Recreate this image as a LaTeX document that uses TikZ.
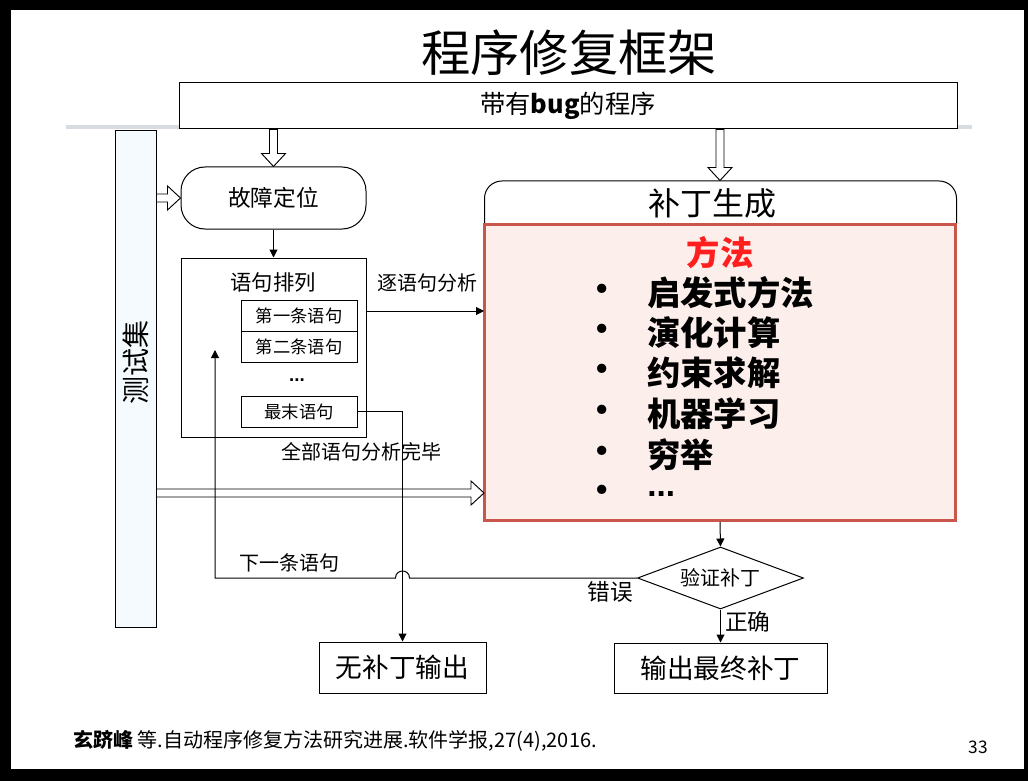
\documentclass[tikz,border=0pt]{standalone}
\usepackage{fontspec}
\setmainfont{Noto Sans CJK SC}
\newfontfamily\dotfont{Liberation Sans}
\usetikzlibrary{shapes.geometric,arrows.meta,calc}
\newcommand\myfs[1]{\fontsize{#1pt}{#1pt}\selectfont}
\newcommand\pxu{0.75pt}
\newcommand\middots{{\dotfont\bfseries ...}}
\definecolor{redborder}{HTML}{C8564B}
\definecolor{pinkfill}{HTML}{FCEEEA}
\definecolor{paleblue}{HTML}{F4FAFD}
\definecolor{lightline}{HTML}{D8DCE2}
\definecolor{titlered}{HTML}{FF1F1F}
\newcommand\hollowdown[2]{\path[hollow] let \p1=(#1), \p2=(#2) in (\x1-3pt,\y1) -- (\x1-3pt,\y2+9.75pt) -- (\x1-9pt,\y2+9.75pt) -- (\x1,\y2) -- (\x1+9pt,\y2+9.75pt) -- (\x1+3pt,\y2+9.75pt) -- (\x1+3pt,\y1) -- cycle;}
\newcommand\hollowright[2]{\path[hollow] let \p1=(#1), \p2=(#2) in (\x1,\y1+3pt) -- (\x2-9.75pt,\y1+3pt) -- (\x2-9.75pt,\y1+9pt) -- (\x2,\y1) -- (\x2-9.75pt,\y1-9pt) -- (\x2-9.75pt,\y1-3pt) -- (\x1,\y1-3pt) -- cycle;}
\begin{document}
\begin{tikzpicture}[x=0.75pt,y=-0.75pt,
  box/.style={draw, line width=0.75pt, fill=white, inner sep=0pt},
  sbox/.style={box, minimum width=116*\pxu, minimum height=31*\pxu, font=\myfs{13}},
  lbl/.style={inner sep=0pt},
  conn/.style={line width=0.75pt, -{Triangle[length=6pt,width=6pt]}},
  hollow/.style={draw, line width=0.7pt, fill=white},
  bul/.style={inner sep=0pt, font=\myfs{25}\bfseries},
  item/.style={inner sep=0pt, font=\myfs{25}\bfseries, anchor=west}]
\fill[black] (0,0) rectangle (1028,781);
\fill[white] (11,10) rectangle (1024,769);
\useasboundingbox (0,0) rectangle (1028,781);
\fill[lightline] (66,125) rectangle (972,129);

\node[lbl, font=\myfs{37}] (title) at (569,53) {程序修复框架};
\node[box, minimum width=778*\pxu, minimum height=46*\pxu, font=\myfs{19}] (bug) at (568,106) {带有\textbf{bug}的程序};

\node[box, fill=paleblue, minimum width=41*\pxu, minimum height=496*\pxu] (test) at (135.5,379) {};
\node[lbl, rotate=90, font=\myfs{21}] (testlbl) at (135.5,362) {测试集};

\node[box, rounded corners=18pt, minimum width=185*\pxu, minimum height=62*\pxu, font=\myfs{17}] (fault) at (273.5,198) {故障定位};
\node[box, minimum width=185*\pxu, minimum height=179*\pxu] (stmts) at (273.5,347.5) {};
\node[lbl, font=\myfs{16}] (stmtlbl) at (273,282) {语句排列};
\node[sbox] (s1) at (299,315.5) {第一条语句};
\node[sbox] (s2) at (299,346.5) {第二条语句};
\node[lbl, font=\myfs{14}] (sdots) at (297,380) {\middots};
\node[sbox] (slast) at (299,411.5) {最末语句};

\node[box, rounded corners=13pt, minimum width=472*\pxu, minimum height=60*\pxu] (gen) at (720.5,211) {};
\node[lbl, font=\myfs{24}] (genlbl) at (712,203) {补丁生成};
\node[draw=redborder, line width=2.25pt, fill=pinkfill, inner sep=0pt, minimum width=471*\pxu, minimum height=296*\pxu] (methods) at (720,372.5) {};
\node[lbl, font=\myfs{25}\bfseries, text=titlered] (mhead) at (720,253) {方法};
\foreach \t/\y [count=\i] in {启发式方法/293, 演化计算/333, 约束求解/373, 机器学习/414, 穷举/455, \middots/494} {
  \node[bul] (b\i) at (602,\y) {•};
  \node[item] (it\i) at (647,\y) {\t};
}

\node[diamond, draw, line width=0.75pt, fill=white, inner sep=0pt, shape aspect=2.6, minimum width=166*\pxu, minimum height=62*\pxu, font=\myfs{15}] (verify) at (720.5,578) {验证补丁};
\node[box, minimum width=167*\pxu, minimum height=51*\pxu, font=\myfs{20}] (nopatch) at (402.5,667.5) {无补丁输出};
\node[box, minimum width=213*\pxu, minimum height=50*\pxu, font=\myfs{20}] (final) at (720.5,668) {输出最终补丁};

\coordinate (tin) at (484,493);
\coordinate (ain) at (484,311);
\coordinate (loopL) at (215,578);
\coordinate (loopT) at (215,350);
\coordinate (hopR) at ($(nopatch.north |- loopL)+(7,0)$);
\coordinate (hopL) at ($(nopatch.north |- loopL)+(-7,0)$);

\hollowdown{bug.south -| fault.north}{fault.north}
\hollowdown{bug.south -| methods.north}{gen.north -| methods.north}
\hollowright{test.east |- fault.west}{fault.west}
\hollowright{test.east |- tin}{tin}

\draw[conn] (fault.south) -- (stmts.north);
\draw[conn] (stmts.east |- ain) -- (ain);
\draw[conn] (slast.east) -| (nopatch.north);
\draw[conn] (methods.south) -- (verify.north);
\draw[conn] (verify.south) -- (final.north);
\draw[conn] (verify.west) -- (hopR) .. controls ($(hopR)+(0,-9.33)$) and ($(hopL)+(0,-9.33)$) .. (hopL) -- (loopL) -- (loopT);

\node[lbl, font=\myfs{15}] (l1) at (427,283) {逐语句分析};
\node[lbl, font=\myfs{15}] (l2) at (361,452) {全部语句分析完毕};
\node[lbl, font=\myfs{15}] (l3) at (289,563) {下一条语句};
\node[lbl, font=\myfs{17}] (l4) at (610,592) {错误};
\node[lbl, font=\myfs{17}, anchor=west] (l5) at (725,622) {正确};

\node[lbl, anchor=west, font=\myfs{15}] (foot) at (73,741) {\textbf{玄跻峰} 等.自动程序修复方法研究进展.软件学报,27(4),2016.};
\node[lbl, font=\myfs{13}] (page) at (978,747) {33};
\end{tikzpicture}
\end{document}
